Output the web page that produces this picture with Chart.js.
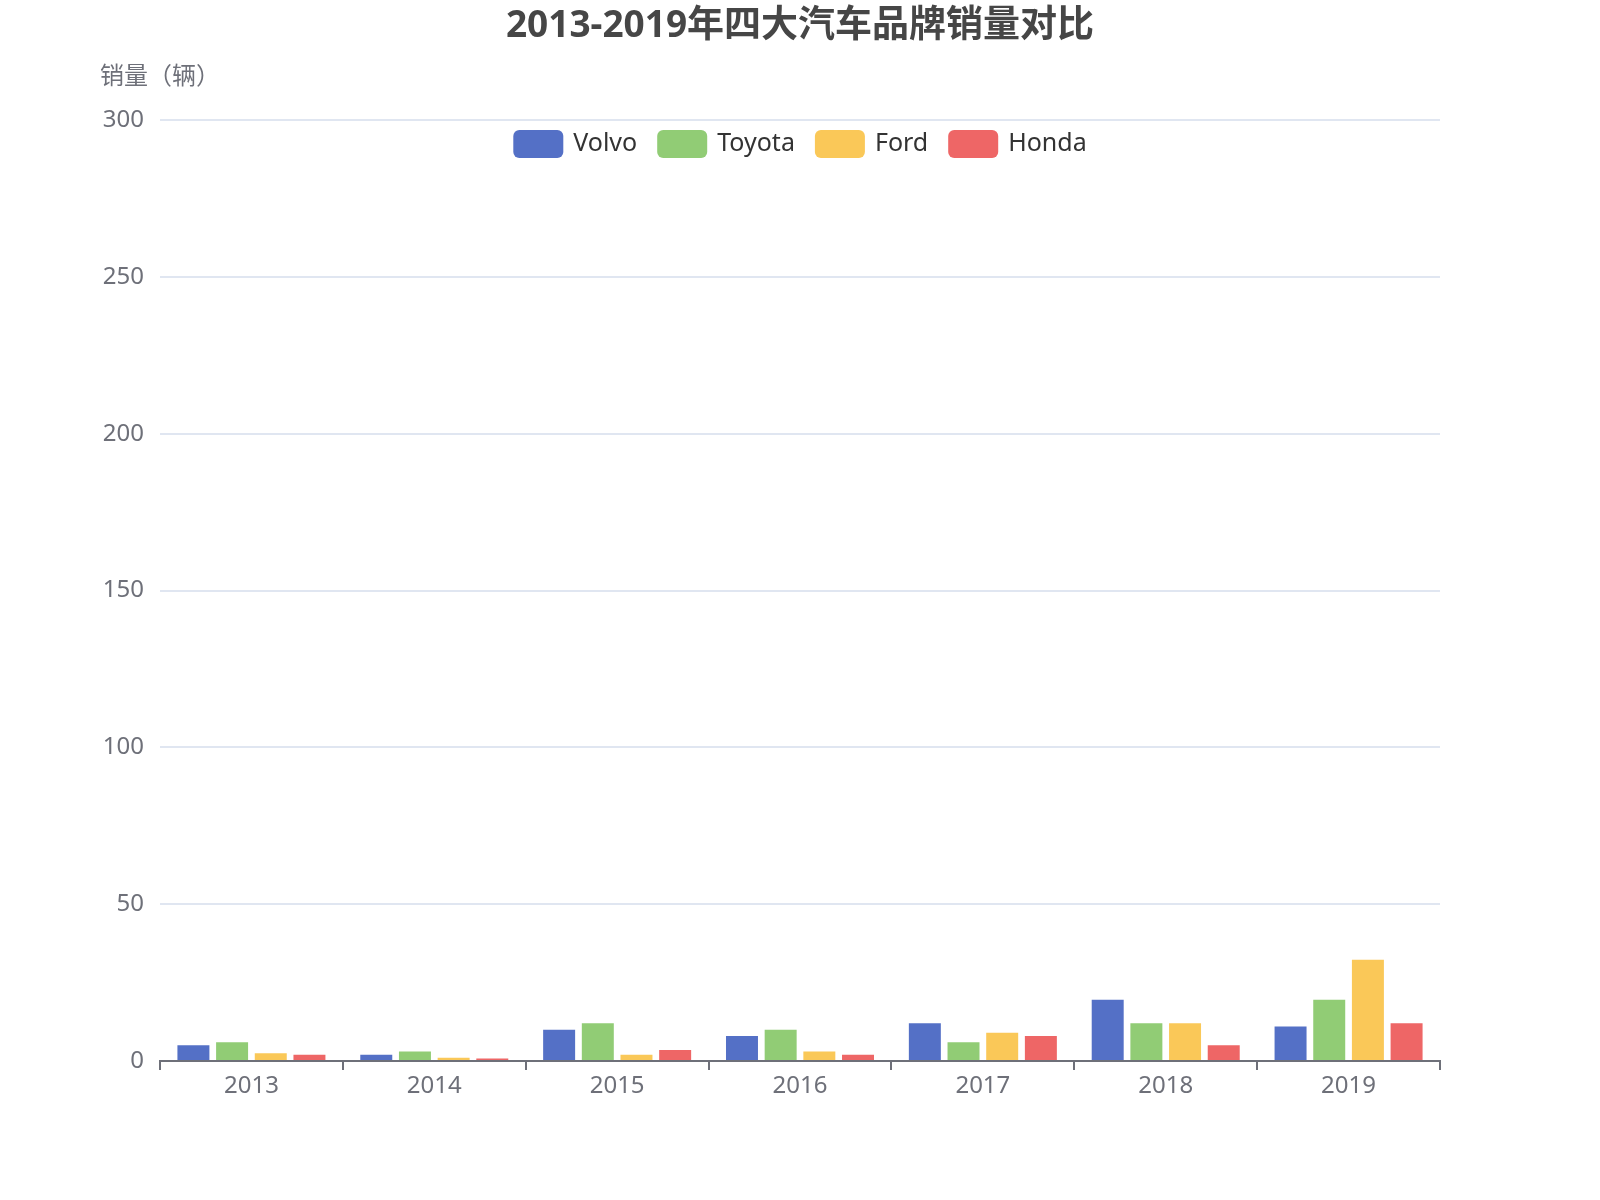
<!DOCTYPE html>
<html>
<head>
<meta charset="utf-8">
<script src="https://cdn.jsdelivr.net/npm/chart.js@4.4.1/dist/chart.umd.min.js"></script>
<style>
  html, body { margin: 0; padding: 0; background: #ffffff; }
  #wrap { width: 1600px; height: 1200px; }
</style>
</head>
<body>
<div id="wrap"><canvas id="c" width="1600" height="1200"></canvas></div>
<script>
const titleText = '2013-2019年四大汽车品牌销量对比';
const yAxisName = '销量（辆）';
const years = ['2013', '2014', '2015', '2016', '2017', '2018', '2019'];
const seriesNames = ['Volvo', 'Toyota', 'Ford', 'Honda'];
const volvo  = [5, 2, 10, 8, 12, 19.5, 11];
const toyota = [6, 3, 12, 10, 6, 12, 19.5];
const ford   = [2.5, 1, 2, 3, 9, 12, 32.3];
const honda  = [2, 0.8, 3.5, 2, 8, 5, 12];
const colors = ['#5470c6', '#91cc75', '#fac858', '#ee6666'];
const yTicks = { min: 0, max: 300, step: 50 };

const FONT = '"Noto Sans", "Noto Sans CJK SC", sans-serif';

const seriesValues = [volvo, toyota, ford, honda];

const decorPlugin = {
  id: 'decor',
  afterDraw(chart) {
    const ctx = chart.ctx;
    ctx.save();
    // title
    ctx.fillStyle = '#464646';
    ctx.font = 'bold 37px ' + FONT;
    ctx.textAlign = 'center';
    ctx.textBaseline = 'middle';
    ctx.fillText(titleText, 800, 26);
    // axis name
    ctx.fillStyle = '#6E7079';
    ctx.font = '24px ' + FONT;
    ctx.textAlign = 'left';
    ctx.fillText(yAxisName, 100, 77);
    // legend
    ctx.font = '25px ' + FONT;
    const boxW = 50, boxH = 28, textGap = 10, itemGap = 20;
    const ds = chart.data.datasets;
    let total = 0;
    const widths = ds.map(d => ctx.measureText(d.label).width);
    widths.forEach((w, i) => { total += boxW + textGap + w + (i < widths.length - 1 ? itemGap : 0); });
    let x = 800 - total / 2;
    const cy = 144;
    ds.forEach((d, i) => {
      ctx.fillStyle = d.backgroundColor;
      ctx.beginPath();
      if (ctx.roundRect) ctx.roundRect(x, cy - boxH / 2, boxW, boxH, 6);
      else ctx.rect(x, cy - boxH / 2, boxW, boxH);
      ctx.fill();
      ctx.fillStyle = '#333333';
      ctx.textAlign = 'left';
      ctx.textBaseline = 'middle';
      ctx.fillText(d.label, x + boxW + textGap, cy);
      x += boxW + textGap + widths[i] + itemGap;
    });
    ctx.restore();
  }
};

new Chart(document.getElementById('c'), {
  type: 'bar',
  data: {
    labels: years,
    datasets: seriesNames.map((name, i) => ({
      label: name,
      data: seriesValues[i],
      backgroundColor: colors[i],
      borderWidth: 0,
      categoryPercentage: 0.846,
      barPercentage: 0.827
    }))
  },
  options: {
    responsive: false,
    devicePixelRatio: 1,
    animation: false,
    layout: { padding: { left: 0, top: 120, right: 160, bottom: 0 } },
    plugins: {
      legend: { display: false },
      title: { display: false },
      tooltip: { enabled: false }
    },
    scales: {
      x: {
        afterFit(scale) { scale.height = 139; },
        grid: {
          offset: true,
          drawOnChartArea: false,
          drawTicks: true,
          tickLength: 9,
          color: '#6E7079',
          lineWidth: 2
        },
        border: { display: true, color: '#6E7079', width: 2 },
        ticks: {
          color: '#6E7079',
          font: { family: FONT, size: 24 },
          padding: 2,
          maxRotation: 0
        }
      },
      y: {
        min: yTicks.min,
        max: yTicks.max,
        afterFit(scale) { scale.width = 160; },
        grid: {
          drawTicks: false,
          color: (c) => c.tick && c.tick.value === 0 ? 'rgba(0,0,0,0)' : '#E0E6F1',
          lineWidth: 2
        },
        border: { display: false },
        ticks: {
          stepSize: yTicks.step,
          color: '#6E7079',
          font: { family: FONT, size: 24 },
          padding: 16
        }
      }
    }
  },
  plugins: [decorPlugin]
});
</script>
</body>
</html>
